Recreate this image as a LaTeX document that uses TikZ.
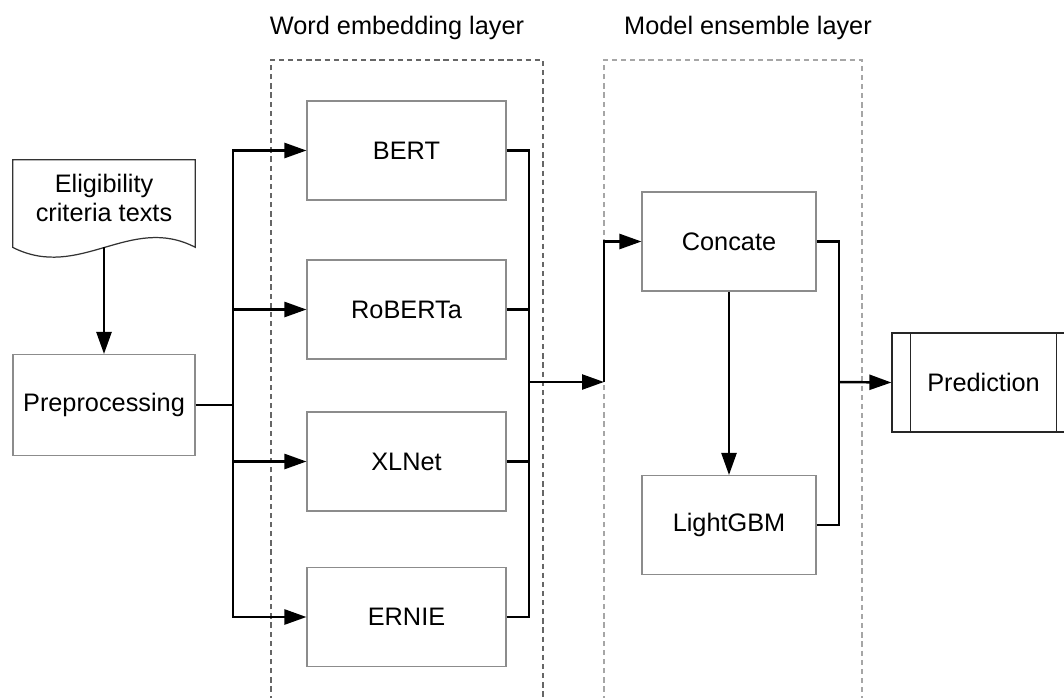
\documentclass[tikz,border=0pt]{standalone}
\usepackage{fontspec}
\setmainfont{Liberation Sans}
\usetikzlibrary{arrows.meta}
\tikzset{
  procbox/.style={draw=black!45,line width=0.6pt,minimum width=3.98cm,minimum height=1.98cm,inner sep=0pt},
  link/.style={line width=1.4pt},
  layerframe/.style={dash pattern=on 3pt off 2.2pt,line width=0.7pt},
}

\begin{document}
\begin{tikzpicture}[>={Triangle[length=0.44cm,width=0.3cm]},font=\fontsize{14.4}{16.5}\selectfont]
  \useasboundingbox (0,0) rectangle (21.28,-13.94);
  \clip (0,0) rectangle (21.28,-13.94);

  % the two layers, open at the bottom
  \draw[layerframe,draw=black!60] (5.42,-14.2) -- (5.42,-1.2) -- (10.86,-1.2) -- (10.86,-14.2);
  \draw[layerframe,draw=black!35] (12.08,-14.2) -- (12.08,-1.2) -- (17.24,-1.2) -- (17.24,-14.2);
  \node (wordtitle) at (7.94,-0.56) {Word embedding layer};
  \node (ensembletitle) at (14.96,-0.56) {Model ensemble layer};

  % input document with a wavy lower edge
  \node[minimum width=3.64cm,minimum height=1.5cm,inner sep=0pt,align=center] (doc) at (2.08,-3.95) {Eligibility\\criteria texts};
  \draw[black!80,line width=0.7pt] (doc.north west) -- (doc.north east) -- ([yshift=-0.24cm]doc.south east)
    .. controls +(-1.3,0.68) and +(1.34,-0.68) .. ([yshift=-0.24cm]doc.south west) -- cycle;
  \coordinate (docfoot) at ([yshift=-0.24cm]doc.south);

  \node[procbox,minimum width=3.64cm,minimum height=2.02cm] (prep) at (2.08,-8.1) {Preprocessing};
  \draw[link,->] (docfoot) -- (prep);

  \coordinate (split) at (4.66,-8.1);
  \coordinate (merge) at (10.58,-7.64);
  \coordinate (join) at (12.08,-7.64);
  \coordinate (out) at (16.78,-7.64);
  \draw[link] (prep.east) -- (split);

  % embedding models
  \foreach \name/\txt/\y in {bert/BERT/-3.01,roberta/RoBERTa/-6.19,xlnet/XLNet/-9.23,ernie/ERNIE/-12.34} {
    \node[procbox] (\name) at (8.13,\y) {\txt};
    \draw[link,->] (split) |- (\name.west);
    \draw[link] (\name.east) -| (merge);
  }

  % ensemble
  \node[procbox,minimum width=3.48cm] (concate) at (14.58,-4.83) {Concate};
  \node[procbox,minimum width=3.48cm] (lightgbm) at (14.58,-10.5) {LightGBM};
  \draw[link,->] (merge) -- (join);
  \draw[link,->] (join) |- (concate.west);
  \draw[link,->] (concate) -- (lightgbm);

  % output
  \node[draw=black!85,line width=0.7pt,minimum width=3.66cm,minimum height=1.98cm] (pred) at (19.67,-7.65) {Prediction};
  \draw[black!85,line width=0.7pt] ([xshift=0.38cm]pred.north west) -- ([xshift=0.38cm]pred.south west);
  \draw[black!85,line width=0.7pt] ([xshift=-0.38cm]pred.north east) -- ([xshift=-0.38cm]pred.south east);
  \draw[link] (concate.east) -| (out);
  \draw[link] (lightgbm.east) -| (out);
  \draw[link,->] (out) -- (pred.west);
\end{tikzpicture}
\end{document}
